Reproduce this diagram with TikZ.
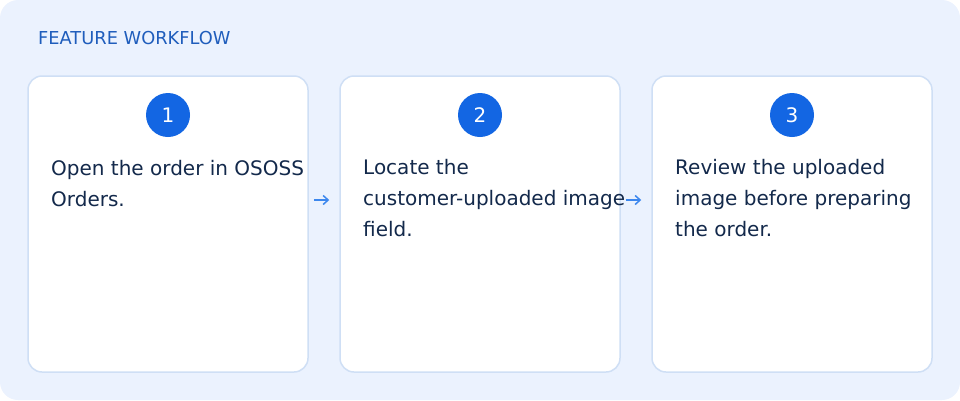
\documentclass[tikz,border=0pt]{standalone}
\usepackage{fontspec}
\setmainfont{DejaVu Sans}
\usetikzlibrary{arrows.meta}
\definecolor{panelbg}{HTML}{EBF2FE}
\definecolor{cardline}{HTML}{CFDFF5}
\definecolor{stepblue}{HTML}{1366E3}
\definecolor{titleblue}{HTML}{1F5DBC}
\definecolor{bodyink}{HTML}{13294B}
\definecolor{flowblue}{HTML}{3C87EE}
\tikzset{
  card/.style={draw=cardline, line width=1.5pt, fill=white, rounded corners=14pt,
    minimum width=280pt, minimum height=296pt, inner sep=0pt},
  badge/.style={circle, fill=stepblue, text=white, minimum size=44pt, inner sep=0pt,
    font=\fontsize{20pt}{22pt}\selectfont},
  steptext/.style={anchor=base west, align=left, inner sep=0pt, text=bodyink,
    font=\fontsize{20pt}{31pt}\selectfont},
  flow/.style={-{Straight Barb[length=5pt,width=9pt]}, flowblue, line width=1.5pt,
    shorten <=5pt, shorten >=10pt}}
\begin{document}
\begin{tikzpicture}[x=1pt,y=-1pt]
      \useasboundingbox (0,0) rectangle (960,400);
      \fill [panelbg, rounded corners=18pt] (0,0) rectangle (960,400);
      \node [anchor=base west, inner sep=0pt, text=titleblue, font=\fontsize{17.8pt}{20pt}\selectfont]
        (title) at (38,44) {FEATURE WORKFLOW};

      \node [card] (c1) at (168,224) {};
      \node [card] (c2) at (480,224) {};
      \node [card] (c3) at (792,224) {};

      \node [badge] (n1) at (168,115) {1};
      \node [badge] (n2) at (480,115) {2};
      \node [badge] (n3) at (792,115) {3};

      % base anchor sits on the last line
      \node [steptext] (t1) at (51,206) {Open the order in OSOSS\\Orders.};
      \node [steptext] (t2) at (363,236) {Locate the\\customer-uploaded image\\field.};
      \node [steptext] (t3) at (675,236) {Review the uploaded\\image before preparing\\the order.};

      \draw [flow] ([yshift=24pt]c1.east) -- ([yshift=24pt]c2.west);
      \draw [flow] ([yshift=24pt]c2.east) -- ([yshift=24pt]c3.west);
    \end{tikzpicture}
\end{document}
